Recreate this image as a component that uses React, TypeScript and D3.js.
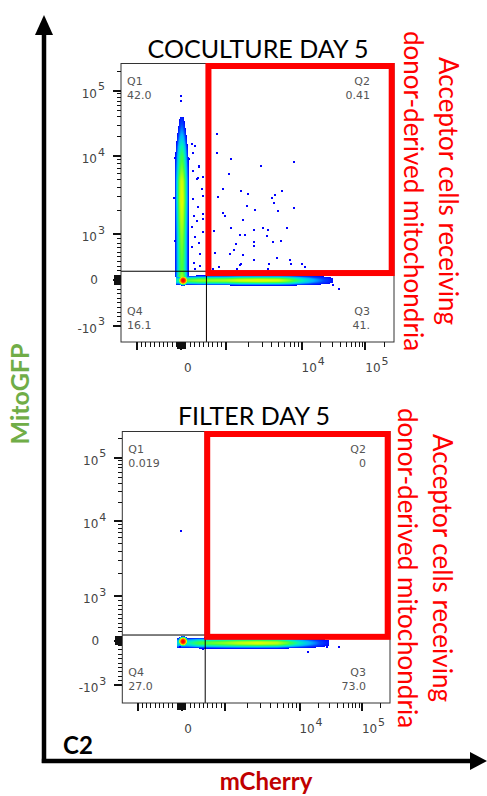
import React, { useMemo } from "react";
import * as d3 from "d3";

// ---------------- DATA ----------------
const panelTitles = ["COCULTURE DAY 5", "FILTER DAY 5"];
const quadrantNames = ["Q1", "Q2", "Q3", "Q4"];
const cocultureQuadrantPct = ["42.0", "0.41", "41.", "16.1"];
const filterQuadrantPct = ["0.019", "0", "73.0", "27.0"];
const gateMCherry = [560, 540];
const gateMitoGFP = [190, 130];
const annotationLines = ["Acceptor cells receiving", "donor-derived mitochondria"];

const majorTicks = [-1000, 0, 1000, 10000, 100000];
const yTickLabelValues = [-1000, 0, 1000, 10000, 100000];
const xTickLabelValues = [0, 10000, 100000];
const nearZeroTicks = [-90, -80, -70, -60, -50, -40, -30, -20, -10, 10, 20, 30, 40, 50, 60, 70, 80, 90];
const minorTicks = [
  -900, -800, -700, -600, -500, -400, -300, -200, -100,
  100, 200, 300, 400, 500, 600, 700, 800, 900,
  2000, 3000, 4000, 5000, 6000, 7000, 8000, 9000,
  20000, 30000, 40000, 50000, 60000, 70000, 80000, 90000, 200000,
];

// Coculture: MitoGFP+ donor ridge (vertical, mCherry ~ 0)
const cocVertMitoGFP = [40000, 30000, 20000, 14000, 10000, 7000, 4800, 2700, 1500, 950, 520, 250, 60];
const cocVertLevel = [0.08, 0.22, 0.38, 0.52, 0.6, 0.66, 0.74, 0.76, 0.72, 0.68, 0.64, 0.62, 0.7];
const cocVertSpread = [50, 75, 110, 135, 150, 160, 165, 165, 160, 155, 155, 155, 160];
const cocVertCenter = 10;
// Coculture: mCherry+ acceptor ridge (horizontal, MitoGFP ~ 0)
const cocHorMCherry = [-120, 150, 400, 1000, 1500, 2700, 5000, 7000, 9500, 13000, 18000, 25000, 31000];
const cocHorLevel = [0.5, 0.64, 0.68, 0.7, 0.74, 0.76, 0.74, 0.66, 0.54, 0.42, 0.3, 0.16, 0.05];
const cocHorSpread = [105, 105, 110, 110, 115, 115, 115, 115, 110, 105, 95, 85, 60];
const cocHorCenter = -10;
const cocPeakMCherry = [40];
const cocPeakMitoGFP = [-10];
const cocPeakLevel = [1];
const cocPeakRadius = [125];
// Coculture sparse events
const cocDotsMCherry = [
  -10, -10, 786, 786, 1152, 2898, 7874, 301, 1085, 397, 375, 487, 933, 1556, 1937, 4033, 4454, 5450,
  821, 1879, 4322, 2442, 4920, 7874, 933, 971, 1667, 1176, 2370, 3039, 3528, 6445, 732, 1510, 1754,
  3425, 1367, 2370, 2370, 4231, 5290, 1260, 748, 1667, 1118, 2320, 4774, 6922, 1588, 1510, 3716, 7260,
  10110, 11430, 844, 710, 1392, 3528, 228, 263, 174, 263, 397, 339, 451, 487, 263, 375, 473, 279, 339,
  487, 228, 473, 301, 397, 228, 413, 286, 413, 301, -145, -167, -145, 38200, 30700,
];
const cocDotsMitoGFP = [
  84700, 70900, 22200, 11320, 9120, 7490, 8510, 14360, 5980, 7270, 5310, 5470, 3840, 3590, 3310, 2940,
  3180, 3590, 3000, 2300, 2540, 2050, 1990, 2150, 1890, 1715, 1510, 1195, 1135, 1195, 1135, 1195, 1100,
  978, 978, 956, 781, 816, 729, 816, 838, 656, 597, 547, 575, 438, 488, 438, 357, 328, 344, 344, 344,
  284, 291, 234, 234, 234, 15250, 11320, 9120, 6470, 7490, 5060, 3770, 3090, 2810, 2240, 1800, 1715,
  1480, 1555, 1215, 1050, 926, 794, 707, 562, 379, 306, 234, 9580, 2940, 853, -203, -109,
];

// Filter: mCherry+ acceptor ridge only
const filtHorMCherry = [-100, 150, 400, 1000, 1500, 2700, 5000, 7000, 9500, 13000, 18000, 24000, 30000];
const filtHorLevel = [0.45, 0.5, 0.62, 0.68, 0.72, 0.75, 0.72, 0.64, 0.52, 0.4, 0.28, 0.15, 0.05];
const filtHorSpread = [120, 120, 125, 130, 130, 130, 130, 125, 120, 115, 105, 90, 65];
const filtHorCenter = -50;
const filtPeakMCherry = [35];
const filtPeakMitoGFP = [-15];
const filtPeakLevel = [1];
const filtPeakRadius = [125];
const filtDotsMCherry = [-23, 497, 13820, 27200, 43300, -34];
const filtDotsMitoGFP = [7400, -191, -245, -133, -146, -133];

// density colour map (FlowJo pseudocolor)
const densityStops = [0, 0.2, 0.35, 0.5, 0.62, 0.75, 0.88, 1];
const densityColors = ["#0000ff", "#0040ff", "#00b0ff", "#00f0c0", "#40ff40", "#e0ff00", "#ff9000", "#ff0000"];

// ---------------- SCALES ----------------
const A = 1.69;
const B = 1.425;
function biex(v: number) {
  if (v <= 1000) return v / 1000;
  if (v <= 10000) return 1 + A * Math.log10(v / 1000);
  return 1 + A + B * Math.log10(v / 10000);
}
function makeAxis(dmin: number, dmax: number, r0: number, r1: number) {
  const s = d3.scaleLinear().domain([biex(dmin), biex(dmax)]).range([r0, r1]);
  return (v: number) => s(biex(v));
}

const palette = d3
  .scaleLinear<string>()
  .domain(densityStops)
  .range(densityColors)
  .interpolate(d3.interpolateRgb)
  .clamp(true);

type Ridge = { pos: number[]; level: number[]; spread: number[]; center: number };
type PanelData = {
  title: string;
  pct: string[];
  gx: number;
  gy: number;
  vert?: Ridge;
  hor: Ridge;
  peaks: { x: number[]; y: number[]; level: number[]; r: number[] };
  dots: { x: number[]; y: number[] };
};

const panelData: PanelData[] = [
  {
    title: panelTitles[0],
    pct: cocultureQuadrantPct,
    gx: gateMCherry[0],
    gy: gateMitoGFP[0],
    vert: { pos: cocVertMitoGFP, level: cocVertLevel, spread: cocVertSpread, center: cocVertCenter },
    hor: { pos: cocHorMCherry, level: cocHorLevel, spread: cocHorSpread, center: cocHorCenter },
    peaks: { x: cocPeakMCherry, y: cocPeakMitoGFP, level: cocPeakLevel, r: cocPeakRadius },
    dots: { x: cocDotsMCherry, y: cocDotsMitoGFP },
  },
  {
    title: panelTitles[1],
    pct: filterQuadrantPct,
    gx: gateMCherry[1],
    gy: gateMitoGFP[1],
    hor: { pos: filtHorMCherry, level: filtHorLevel, spread: filtHorSpread, center: filtHorCenter },
    peaks: { x: filtPeakMCherry, y: filtPeakMitoGFP, level: filtPeakLevel, r: filtPeakRadius },
    dots: { x: filtDotsMCherry, y: filtDotsMitoGFP },
  },
];

const layouts = [
  { left: 121, right: 394, top: 63.5, bottom: 342, yMin: -1350, titleX: 258, titleY: 58, textX: [439, 404], textY: 191 },
  { left: 122.3, right: 390, top: 431.5, bottom: 703, yMin: -1400, titleX: 254, titleY: 425, textX: [433, 398], textY: 568 },
];

const TICK_FONT = "'DejaVu Sans', sans-serif";
const LABEL_FONT = "Lato, 'Open Sans', sans-serif";

function Panel({ d, L }: { d: PanelData; L: (typeof layouts)[number] }) {
  const xS = useMemo(() => makeAxis(-1350, 280000, L.left, L.right), [L]);
  const yS = useMemo(() => makeAxis(L.yMin, 262144, L.bottom, L.top), [L]);

  const cells = useMemo(() => {
    const out: { x: number; y: number; c: string }[] = [];
    let vInfo: any = null;
    if (d.vert) {
      const sy = d.vert.pos.map((v) => yS(v));
      const cx = xS(d.vert.center);
      const hw = d.vert.spread.map((s) => xS(d.vert!.center + s) - cx);
      vInfo = {
        y0: sy[0],
        y1: sy[sy.length - 1],
        lvl: d3.scaleLinear().domain(sy).range(d.vert.level).clamp(true),
        hw: d3.scaleLinear().domain(sy).range(hw).clamp(true),
        cx,
      };
    }
    const sx = d.hor.pos.map((v) => xS(v));
    const cy = yS(d.hor.center);
    const hwh = d.hor.spread.map((s) => cy - yS(d.hor.center + s));
    const hInfo = {
      x0: sx[0],
      x1: sx[sx.length - 1],
      lvl: d3.scaleLinear().domain(sx).range(d.hor.level).clamp(true),
      hw: d3.scaleLinear().domain(sx).range(hwh).clamp(true),
      cy,
    };
    const peaks = d.peaks.x.map((px, i) => ({
      x: xS(px),
      y: yS(d.peaks.y[i]),
      level: d.peaks.level[i],
      r: xS(px + d.peaks.r[i]) - xS(px),
    }));
    for (let py = Math.ceil(L.top) + 1; py < L.bottom - 1; py++) {
      const yc = py + 0.5;
      for (let px = Math.ceil(L.left) + 1; px < L.right - 1; px++) {
        const xc = px + 0.5;
        let lv = 0;
        if (vInfo && yc >= vInfo.y0 && yc <= vInfo.y1) {
          const r = Math.abs(xc - vInfo.cx) / vInfo.hw(yc);
          if (r < 1) lv = Math.max(lv, vInfo.lvl(yc) * (1 - r * r));
        }
        if (xc >= hInfo.x0 && xc <= hInfo.x1) {
          const r = Math.abs(yc - hInfo.cy) / hInfo.hw(xc);
          if (r < 1) lv = Math.max(lv, hInfo.lvl(xc) * (1 - r * r));
        }
        for (const p of peaks) {
          const r = Math.hypot(xc - p.x, yc - p.y) / p.r;
          if (r < 1) lv = Math.max(lv, p.level * (1 - r * r * r));
        }
        if (lv > 0.015) out.push({ x: px, y: py, c: palette(lv) });
      }
    }
    return out;
  }, [d, L, xS, yS]);

  const gxp = xS(d.gx);
  const gyp = yS(d.gy);

  const ticks = [
    ...majorTicks.map((v) => ({ v, len: 8, w: 2 })),
    ...nearZeroTicks.map((v) => ({ v, len: 7, w: 1 })),
    ...minorTicks.map((v) => ({ v, len: 4.5, w: 1 })),
  ];

  return (
    <g>
      <text x={L.titleX} y={L.titleY} textAnchor="middle" fontFamily={LABEL_FONT} fontSize={25} fill="#000">
        {d.title}
      </text>
      {/* density */}
      <g shapeRendering="crispEdges">
        {cells.map((c, i) => (
          <rect key={i} x={c.x} y={c.y} width={1} height={1} fill={c.c} />
        ))}
        {d.dots.x.map((x, i) => (
          <rect key={"d" + i} x={Math.round(xS(x) - 1)} y={Math.round(yS(d.dots.y[i]) - 1)} width={2} height={2} fill="#0000ff" />
        ))}
      </g>
      {/* gates */}
      <line x1={L.left} x2={L.right} y1={gyp} y2={gyp} stroke="#000" strokeWidth={1} />
      <line x1={gxp} x2={gxp} y1={L.top} y2={L.bottom} stroke="#000" strokeWidth={1} />
      {/* frame */}
      <rect x={L.left} y={L.top} width={L.right - L.left} height={L.bottom - L.top} fill="none" stroke="#333" strokeWidth={1} />
      {/* ticks */}
      <g shapeRendering="crispEdges" stroke="#111">
        {ticks.map((t, i) => (
          <line key={"yt" + i} x1={L.left - t.len} x2={L.left} y1={yS(t.v)} y2={yS(t.v)} strokeWidth={t.w} />
        ))}
        {ticks.map((t, i) => (
          <line key={"xt" + i} x1={xS(t.v)} x2={xS(t.v)} y1={L.bottom} y2={L.bottom + t.len} strokeWidth={t.w} />
        ))}
      </g>
      {/* y labels */}
      {yTickLabelValues.map((v) => {
        const y = yS(v);
        if (v === 0)
          return (
            <text key={"yl" + v} x={L.left - 27} y={y + 4} textAnchor="middle" fontFamily={TICK_FONT} fontSize={12} fill="#444">
              0
            </text>
          );
        const e = Math.round(Math.log10(Math.abs(v)));
        return (
          <g key={"yl" + v}>
            <text x={L.left - 24} y={y + 6.6} textAnchor="end" fontFamily={TICK_FONT} fontSize={12} fill="#444">
              {v < 0 ? "-10" : "10"}
            </text>
            <text x={L.left - 23} y={y - 0.5} textAnchor="start" fontFamily={TICK_FONT} fontSize={11} fill="#444">
              {e}
            </text>
          </g>
        );
      })}
      {/* x labels */}
      {xTickLabelValues.map((v) => {
        const x = xS(v);
        const by = L.bottom + 30;
        if (v === 0)
          return (
            <text key={"xl" + v} x={x + 6.5} y={by} textAnchor="middle" fontFamily={TICK_FONT} fontSize={12} fill="#444">
              0
            </text>
          );
        const e = Math.round(Math.log10(v));
        return (
          <g key={"xl" + v}>
            <text x={x + 7.5} y={by} textAnchor="middle" fontFamily={TICK_FONT} fontSize={12} fill="#444">
              10
            </text>
            <text x={x + 16} y={by - 7} textAnchor="start" fontFamily={TICK_FONT} fontSize={11} fill="#444">
              {e}
            </text>
          </g>
        );
      })}
      {/* quadrant labels */}
      <g fontFamily={TICK_FONT} fontSize={11} fill="#555">
        <text x={L.left + 6} y={L.top + 21.5}>{quadrantNames[0]}</text>
        <text x={L.left + 6} y={L.top + 35}>{d.pct[0]}</text>
        <text x={L.right - 24} y={L.top + 21.5} textAnchor="end">{quadrantNames[1]}</text>
        <text x={L.right - 24} y={L.top + 35} textAnchor="end">{d.pct[1]}</text>
        <text x={L.right - 24} y={L.bottom - 27} textAnchor="end">{quadrantNames[2]}</text>
        <text x={L.right - 24} y={L.bottom - 13} textAnchor="end">{d.pct[2]}</text>
        <text x={L.left + 6} y={L.bottom - 27}>{quadrantNames[3]}</text>
        <text x={L.left + 6} y={L.bottom - 13}>{d.pct[3]}</text>
      </g>
      {/* highlighted Q2 region */}
      <rect
        x={gxp + 2}
        y={L.top + 2.5}
        width={L.right - 2.3 - (gxp + 2)}
        height={gyp + 1.8 - (L.top + 2.5)}
        fill="none"
        stroke="#ff0000"
        strokeWidth={6}
      />
      {annotationLines.map((t, i) => (
        <text
          key={"an" + i}
          transform={`translate(${L.textX[i]},${L.textY}) rotate(90)`}
          textAnchor="middle"
          fontFamily={LABEL_FONT}
          fontSize={26}
          fill="#ff0000"
        >
          {t}
        </text>
      ))}
    </g>
  );
}

export default function App() {
  return (
    <svg width={487} height={796} style={{ position: "absolute", left: 0, top: 0, background: "#fff" }}>
      <rect x={0} y={0} width={487} height={796} fill="#fff" />
      {panelData.map((d, i) => (
        <Panel key={i} d={d} L={layouts[i]} />
      ))}
      {/* big axes */}
      <line x1={44} y1={763} x2={44} y2={33} stroke="#000" strokeWidth={4.5} />
      <polygon points="44,15 35,35 53,35" fill="#000" />
      <line x1={41.8} y1={761} x2={472} y2={761} stroke="#000" strokeWidth={4.5} />
      <polygon points="487,761 470,752 470,770" fill="#000" />
      <text x={63} y={753.5} fontFamily={LABEL_FONT} fontWeight="bold" fontSize={24} fill="#000">
        C2
      </text>
      <text x={266} y={790} textAnchor="middle" fontFamily={LABEL_FONT} fontWeight="bold" fontSize={24} fill="#c00000">
        mCherry
      </text>
      <text
        transform="translate(29,394) rotate(-90)"
        textAnchor="middle"
        fontFamily={LABEL_FONT}
        fontWeight="bold"
        fontSize={25}
        fill="#70ad47"
      >
        MitoGFP
      </text>
    </svg>
  );
}
